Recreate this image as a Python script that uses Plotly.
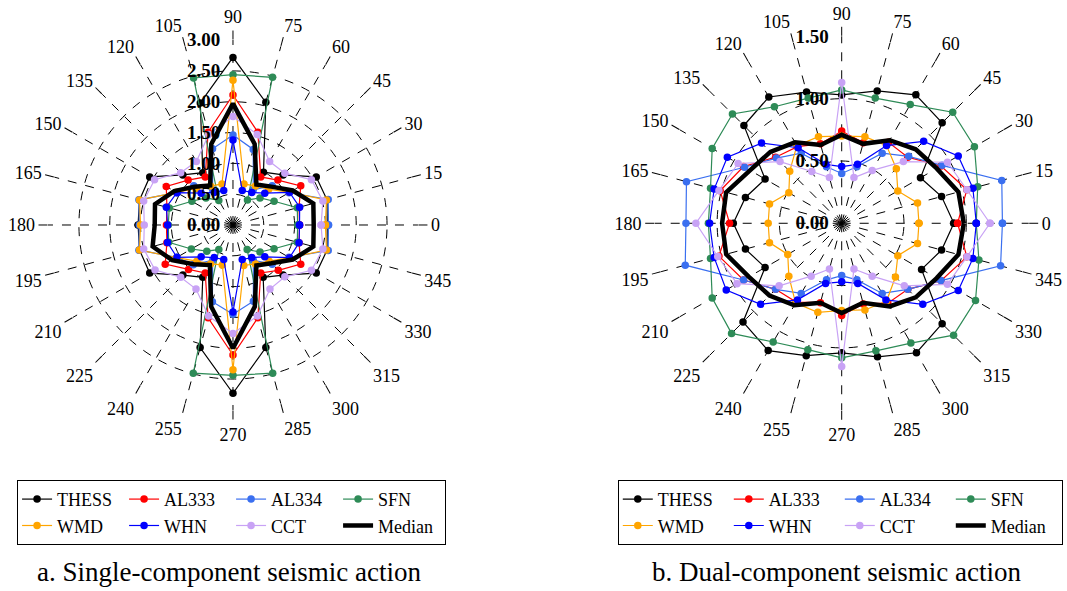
import plotly.graph_objects as go

ANGLES = [0, 15, 30, 45, 60, 75, 90, 105, 120, 135, 150, 165,
          180, 195, 210, 225, 240, 255, 270, 285, 300, 315, 330, 345]
ANGLE_LABELS = [str(a) for a in ANGLES]

SERIES = ["THESS", "AL333", "AL334", "SFN", "WMD", "WHN", "CCT", "Median"]
LEGEND_COLUMN = [1, 2, 3, 4, 1, 2, 3, 4]

# a. Single-component seismic action
THESS_A = [1.53, 1.58, 1.56, 1.15, 0.99, 2.06, 2.72, 2.05, 0.98, 1.15, 1.56, 1.57,
           1.54, 1.57, 1.56, 1.15, 0.98, 2.06, 2.73, 2.06, 0.98, 1.15, 1.56, 1.58]
AL333_A = [1.08, 1.11, 1.27, 1.03, 0.90, 1.56, 2.11, 1.56, 0.90, 1.03, 1.25, 1.11,
           1.08, 1.11, 1.27, 1.02, 0.90, 1.56, 2.11, 1.56, 0.90, 1.04, 1.27, 1.11]
AL334_A = [1.55, 1.60, 1.05, 0.90, 0.66, 1.27, 1.46, 1.28, 0.66, 0.90, 1.05, 1.58,
           1.52, 1.58, 1.05, 0.91, 0.66, 1.29, 1.45, 1.28, 0.66, 0.90, 1.05, 1.60]
SFN_A = [1.05, 1.08, 0.77, 0.62, 0.47, 2.48, 2.44, 2.47, 0.46, 0.62, 0.77, 1.07,
         1.05, 1.08, 0.78, 0.60, 0.46, 2.49, 2.44, 2.49, 0.46, 0.62, 0.77, 1.08]
WMD_A = [1.50, 1.57, 1.06, 0.82, 0.73, 0.69, 2.35, 0.69, 0.73, 0.84, 1.06, 1.57,
         1.50, 1.57, 1.06, 0.83, 0.73, 0.67, 2.35, 0.68, 0.73, 0.83, 1.06, 1.57]
WHN_A = [1.08, 1.12, 1.06, 0.73, 0.61, 0.58, 1.38, 0.58, 0.61, 0.73, 1.05, 1.12,
         1.06, 1.10, 1.05, 0.73, 0.61, 0.58, 1.41, 0.58, 0.61, 0.73, 1.06, 1.11]
CCT_A = [1.43, 1.51, 1.47, 1.19, 1.19, 1.52, 1.76, 1.52, 1.19, 1.20, 1.47, 1.50,
         1.44, 1.50, 1.46, 1.20, 1.20, 1.53, 1.76, 1.53, 1.20, 1.19, 1.47, 1.51]
MED_A = [1.31, 1.35, 1.12, 0.88, 0.76, 1.36, 1.97, 1.36, 0.74, 0.88, 1.10, 1.31,
         1.27, 1.35, 1.14, 0.90, 0.75, 1.37, 2.00, 1.37, 0.76, 0.88, 1.12, 1.35]

# b. Dual-component seismic action
THESS_B = [0.90, 0.83, 0.73, 1.14, 1.19, 1.10, 1.03, 1.09, 1.17, 1.11, 0.71, 0.80,
           0.87, 0.80, 0.71, 1.12, 1.18, 1.10, 1.04, 1.11, 1.20, 1.14, 0.74, 0.83]
AL333_B = [0.93, 1.04, 0.92, 0.75, 0.75, 0.67, 0.74, 0.66, 0.71, 0.75, 0.91, 1.01,
           0.90, 1.02, 0.91, 0.75, 0.73, 0.66, 0.74, 0.67, 0.74, 0.75, 0.92, 1.04]
AL334_B = [1.29, 1.33, 0.93, 0.76, 0.65, 0.47, 0.40, 0.47, 0.65, 0.74, 0.90, 1.29,
           1.25, 1.30, 0.91, 0.75, 0.65, 0.47, 0.42, 0.47, 0.65, 0.75, 0.92, 1.32]
SFN_B = [1.08, 1.13, 1.23, 1.26, 1.10, 1.04, 1.07, 1.04, 1.08, 1.24, 1.20, 1.09,
         1.07, 1.09, 1.20, 1.25, 1.10, 1.05, 1.08, 1.06, 1.11, 1.27, 1.24, 1.14]
WMD_B = [0.62, 0.63, 0.52, 0.62, 0.72, 0.72, 0.70, 0.72, 0.72, 0.59, 0.49, 0.60,
         0.59, 0.60, 0.50, 0.60, 0.74, 0.74, 0.70, 0.72, 0.72, 0.61, 0.52, 0.63]
WHN_B = [1.08, 1.09, 1.08, 0.93, 0.72, 0.49, 0.455, 0.49, 0.70, 0.91, 1.06, 1.06,
         1.06, 1.06, 1.07, 0.92, 0.71, 0.50, 0.47, 0.50, 0.71, 0.92, 1.08, 1.09]
CCT_B = [1.19, 1.04, 0.98, 0.70, 0.49, 0.38, 1.13, 0.38, 0.48, 0.70, 0.96, 1.02,
         1.17, 1.03, 0.97, 0.71, 0.49, 0.38, 1.15, 0.38, 0.49, 0.71, 0.98, 1.04]
MED_B = [0.98, 0.97, 0.88, 0.84, 0.77, 0.66, 0.71, 0.65, 0.75, 0.81, 0.85, 0.96,
         0.96, 0.96, 0.86, 0.82, 0.76, 0.66, 0.72, 0.66, 0.77, 0.84, 0.88, 0.97]

DATA_A = [THESS_A, AL333_A, AL334_A, SFN_A, WMD_A, WHN_A, CCT_A, MED_A]
DATA_B = [THESS_B, AL333_B, AL334_B, SFN_B, WMD_B, WHN_B, CCT_B, MED_B]

COLORS = ["#000000", "#ff0000", "#3a6ff0", "#2e8b57", "#ffa500", "#0000ff", "#c8a2f5", "#000000"]

FONT = "Liberation Serif"

fig = go.Figure()


def add_chart(data, polar, legend, tag):
    for name, vals, col, grp in zip(SERIES, data, COLORS, LEGEND_COLUMN):
        r = list(vals) + [vals[0]]
        th = ANGLES + [ANGLES[0]]
        common = dict(r=r, theta=th, name=name, subplot=polar, legend=legend,
                      legendgroup=f"{tag}{grp}")
        if name == "Median":
            fig.add_trace(go.Scatterpolar(mode="lines", line=dict(color=col, width=4.5), **common))
        else:
            fig.add_trace(go.Scatterpolar(mode="lines+markers",
                                          line=dict(color=col, width=1.2),
                                          marker=dict(color=col, size=7.5), **common))


add_chart(DATA_A, "polar", "legend", "a")
add_chart(DATA_B, "polar2", "legend2", "b")


def polar_layout(domx, domy, rmax, dtick):
    return dict(
        domain=dict(x=domx, y=domy),
        bgcolor="white",
        angularaxis=dict(
            tickmode="array", tickvals=ANGLES, ticktext=ANGLE_LABELS,
            direction="counterclockwise", rotation=0,
            tickfont=dict(family=FONT, size=18, color="black"),
            showgrid=True, gridcolor="black", gridwidth=1, griddash="dash",
            showline=False, ticks="outside", ticklen=9, tickwidth=1, tickcolor="black",
        ),
        radialaxis=dict(
            range=[0, rmax * 1.0005], dtick=dtick, tickformat=".2f",
            ticksuffix="\u00a0\u00a0",
            angle=90, tickangle=90, side="counterclockwise",
            tickfont=dict(family=FONT, size=19, color="black", weight="bold"),
            showgrid=True, gridcolor="black", gridwidth=1, griddash="dash",
            showline=False, ticks="",
        ),
    )


legend_common = dict(
    orientation="h", xanchor="left", yanchor="top", traceorder="grouped",
    bordercolor="black", borderwidth=1, bgcolor="white", entrywidthmode="pixels",
    font=dict(family=FONT, size=18, color="black"),
)

fig.update_layout(
    width=1067, height=591,
    margin=dict(l=0, r=0, t=0, b=0),
    paper_bgcolor="white",
    font=dict(family=FONT, color="black"),
    polar=polar_layout([0.0450, 0.3917], [0.3063, 0.9323], 3.0, 0.5),
    polar2=polar_layout([0.6136, 0.9641], [0.3058, 0.9386], 1.5, 0.5),
    legend=dict(x=0.016, y=0.188, entrywidth=62, **legend_common),
    legend2=dict(x=0.579, y=0.188, entrywidth=66, **legend_common),
    annotations=[
        dict(text="a. Single-component seismic action", x=0.215, y=0.004,
             xref="paper", yref="paper", showarrow=False, xanchor="center", yanchor="bottom",
             font=dict(family=FONT, size=27, color="black")),
        dict(text="b. Dual-component seismic action", x=0.784, y=0.004,
             xref="paper", yref="paper", showarrow=False, xanchor="center", yanchor="bottom",
             font=dict(family=FONT, size=27, color="black")),
    ],
)

fig.write_html("out.html", config={"displayModeBar": False},
               post_script="document.body.style.margin='0';")
